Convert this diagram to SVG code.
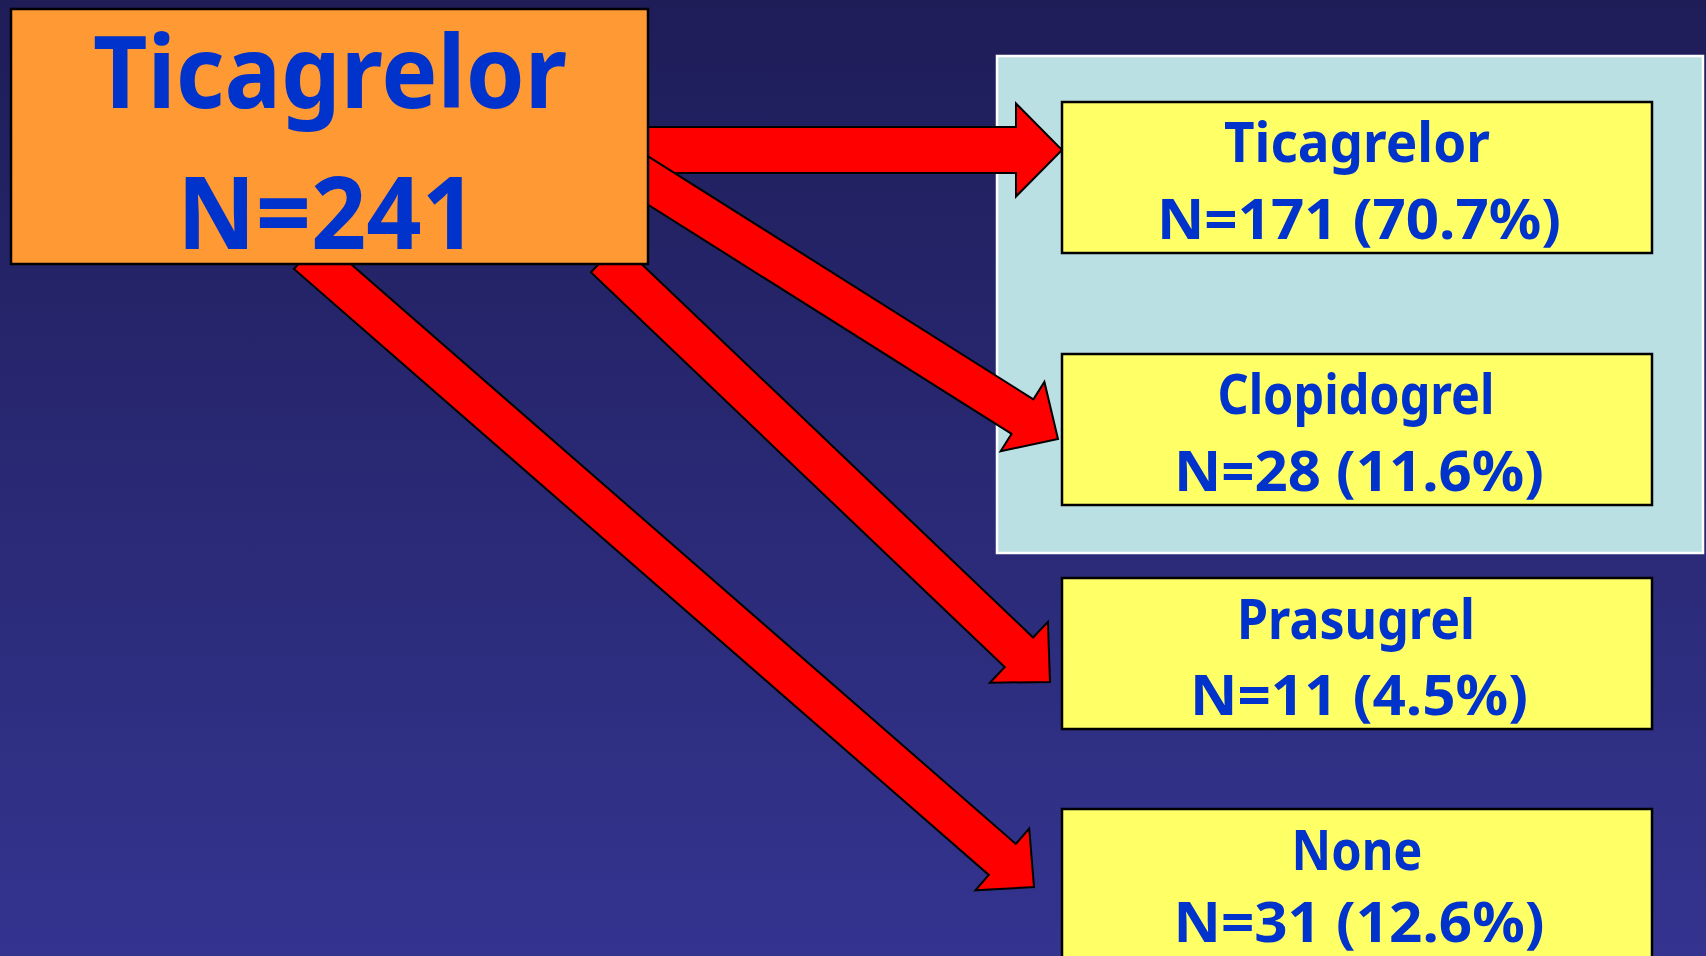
<svg xmlns="http://www.w3.org/2000/svg" width="1706" height="956" viewBox="0 0 1706 956">
<defs>
<linearGradient id="bg" x1="0" y1="0" x2="0" y2="1">
<stop offset="0" stop-color="#1e1d58"/>
<stop offset="1" stop-color="#343490"/>
</linearGradient>
<style>
.arrow{fill:#ff0000;stroke:#000;stroke-width:2;stroke-linejoin:miter}
.box{fill:#ffff66;stroke:#000;stroke-width:2.5}
.t{font-family:"Comic Sans MS","Noto Sans","DejaVu Sans",sans-serif;font-weight:bold;fill:#0033cc;text-anchor:middle}
.big{font-size:100px}
.small{font-size:55px}
</style>
</defs>
<rect x="0" y="0" width="1706" height="956" fill="url(#bg)"/>
<g id="panel">
<rect x="997" y="56" width="706" height="497" fill="#bbe0e3" stroke="#ffffff" stroke-width="2.5"/>
</g>
<g id="connectors">
<polygon class="arrow" points="600,127 1016,127 1016,103.5 1062,150 1016,196.5 1016,173 600,173"/>
<polygon class="arrow" points="608.9,131.7 1033.4,399.3 1044.4,381.9 1058,439 1000.6,451.3 1011.6,433.9 587.1,166.3"/>
<polygon class="arrow" points="619.2,242.7 1033.1,637.5 1047.9,621.9 1050,682 989.9,682.7 1004.7,667.1 590.9,272.3"/>
<polygon class="arrow" points="321,238 1015.8,843.9 1029.2,828.5 1034,887 975.4,890.3 988.8,874.9 294,269"/>
</g>
<g id="source">
<rect x="11" y="9" width="637" height="255" fill="#ff9933" stroke="#000" stroke-width="2.5"/>
<text class="t big" x="330" y="108" textLength="474" lengthAdjust="spacingAndGlyphs">Ticagrelor</text>
<text class="t big" x="327" y="249" textLength="300" lengthAdjust="spacingAndGlyphs">N=241</text>
</g>
<g id="ticagrelor">
<rect class="box" x="1062" y="102" width="590" height="151"/>
<text class="t small" x="1357" y="162" textLength="266" lengthAdjust="spacingAndGlyphs">Ticagrelor</text>
<text class="t small" x="1359" y="239" textLength="404" lengthAdjust="spacingAndGlyphs">N=171 (70.7%)</text>
</g>
<g id="clopidogrel">
<rect class="box" x="1062" y="354" width="590" height="151"/>
<text class="t small" x="1356" y="414" textLength="277" lengthAdjust="spacingAndGlyphs">Clopidogrel</text>
<text class="t small" x="1359" y="491" textLength="370" lengthAdjust="spacingAndGlyphs">N=28 (11.6%)</text>
</g>
<g id="prasugrel">
<rect class="box" x="1062" y="578" width="590" height="151"/>
<text class="t small" x="1356" y="639" textLength="238" lengthAdjust="spacingAndGlyphs">Prasugrel</text>
<text class="t small" x="1359" y="715" textLength="338" lengthAdjust="spacingAndGlyphs">N=11 (4.5%)</text>
</g>
<g id="none">
<rect class="box" x="1062" y="809" width="590" height="160"/>
<text class="t small" x="1357" y="870" textLength="131" lengthAdjust="spacingAndGlyphs">None</text>
<text class="t small" x="1359" y="942" textLength="371" lengthAdjust="spacingAndGlyphs">N=31 (12.6%)</text>
</g>
</svg>
